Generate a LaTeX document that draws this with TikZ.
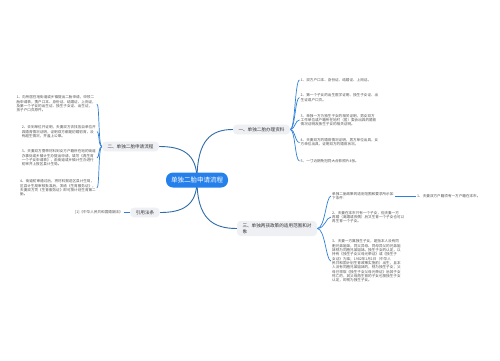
\documentclass[tikz,border=0pt]{standalone}
\usepackage{fontspec}
\newfontfamily\cjk{Noto Sans CJK SC}
\usetikzlibrary{calc,backgrounds}
\definecolor{rootblue}{HTML}{2680EB}
\definecolor{linkblue}{HTML}{2F6CA8}
\definecolor{brblue}{HTML}{2F80D8}
\definecolor{topicfill}{HTML}{EEF0F4}
\definecolor{txt}{HTML}{333333}
\definecolor{subtxt}{HTML}{555555}
\tikzset{
  rootnode/.style={fill=rootblue, rounded corners=7pt, text=white,
    font=\cjk\fontsize{6.5}{7}\selectfont, minimum width=62pt, minimum height=15pt, inner sep=0pt},
  topic/.style={fill=topicfill, rounded corners=4pt, text=txt,
    font=\cjk\fontsize{4.6}{5.6}\selectfont, inner xsep=5.5pt, inner ysep=2.8pt, align=left},
  leaf/.style={text=subtxt, font=\cjk\fontsize{3.6}{4.3}\selectfont, inner sep=1pt, align=left},
  mainlink/.style={draw=linkblue, line width=0.9pt},
  brlink/.style={draw=brblue, line width=0.7pt},
}
\begin{document}
\begin{tikzpicture}[x=1pt,y=-1pt]
\useasboundingbox (0,0) rectangle (500,360);
% nodes
\node[rootnode] (root) at (197,180) {单独二胎申请流程};
\node[topic] (b1) at (261.5,129.5) {一、单独二胎办理资料};
\node[topic] (b2) at (130.5,146.5) {二、单独二胎申请流程};
\node[topic] (b3) at (145,212.5) {引用法条};
\node[topic] (b4) at (277,228.5) {三、单独两孩政策的适用范围和对\\象};
% right upper leaves
\node[leaf, anchor=west] (r1) at (299.5,80) {1、双方户口本、身份证、结婚证、上岗证。};
\node[leaf, anchor=west] (r2) at (299.5,97.5) {2、第一个子女的出生医学证明、独生子女证、出\\生证或户口页。};
\node[leaf, anchor=west] (r3) at (299.5,120) {3、单独一方为独生子女的相关证明，男女双方\\工作单位或户籍所在地村（居）委会出具的婚育\\情况证明及独生子女的相关证明。};
\node[leaf, anchor=west] (r4) at (299.5,142.5) {4、夫妻双方的婚育情况证明，男方单位出具，女\\方单位出具，证明双方的婚育状况。};
\node[leaf, anchor=west] (r5) at (299.5,161) {5、一寸近期免冠同大合影照片4张。};
% left leaves
\node[leaf, anchor=east] (l1) at (97,104) {1、向所居住地街道或乡镇提出二胎申请，申领二\\胎申请表，携户口本、身份证、结婚证、上岗证，\\及第一个子女的出生证、独生子女证、出生证，\\孩子户口页原件。};
\node[leaf, anchor=east] (l2) at (97,131.7) {2、去到单位开证明，夫妻双方去找各自单位开\\具婚育情况证明，证明双方都是初婚初育，没\\有超生情况，并盖上公章。};
\node[leaf, anchor=east] (l3) at (97,158) {3、夫妻双方携带材料到女方户籍所在地的街道\\办事处或乡镇计生办提出申请，填写《再生育\\一个子女申请表》，由街道或乡镇计生办进行\\初审并上报区县计生局。};
\node[leaf, anchor=east] (l4) at (97,188) {4、街道初审通过后，将材料报送区县计生局，\\区县计生局审核批准后，发给《生育服务证》，\\夫妻双方凭《生育服务证》即可按计划生育第二\\胎。};
% cited law
\node[leaf, anchor=east] (b3c) at (124,212.5) {[1]《中华人民共和国婚姻法》};
% right lower leaves
\node[leaf, anchor=west] (s0) at (331,196) {单独二胎政策的适用范围和要求所示如\\下条件：};
\node[leaf, anchor=west] (s0a) at (416,196) {1、夫妻双方户籍须有一方户籍在本市。};
\node[leaf, anchor=west] (s2) at (331,217) {2、夫妻在本市只有一个子女，但夫妻一方\\再婚（离婚或丧偶）后又生育一个子女也可以\\再生育一个子女。};
\node[leaf, anchor=west] (s3) at (331,261) {3、夫妻一方属独生子女，是指本人没有同\\胞兄弟姐妹，同父异母、同母异父的兄弟姐\\妹视为同胞兄弟姐妹。独生子女的认定，以\\持有《独生子女父母光荣证》或《独生子\\女证》为准；1982年1月1日（中华人\\民共和国计划生育政策实施前）出生，且本\\人没有同胞兄弟姐妹的，视为独生子女；父\\母已领取《独生子女父母光荣证》后其子女\\死亡的，其父母再生育的子女也按独生子女\\认定，即视为独生子女。};
% connectors
\begin{pgfonlayer}{background}
\fill[white] (0,0) rectangle (500,360);
\draw[mainlink] (root.center) .. controls ($(root.center)!0.8!(root.center |- b1.west)$) and ($(b1.west)!0.6!(root.center |- b1.west)$) .. (b1.west);
\draw[mainlink] (root.center) .. controls ($(root.center)!0.8!(root.center |- b2.east)$) and ($(b2.east)!0.6!(root.center |- b2.east)$) .. (b2.east);
\draw[mainlink] (root.center) .. controls ($(root.center)!0.8!(root.center |- b3.east)$) and ($(b3.east)!0.6!(root.center |- b3.east)$) .. (b3.east);
\draw[mainlink] (root.center) .. controls ($(root.center)!0.8!(root.center |- b4.west)$) and ($(b4.west)!0.6!(root.center |- b4.west)$) .. (b4.west);
\foreach \c in {r1,r2,r3,r4,r5}
  \draw[brlink] (b1.east) .. controls ($(b1.east)+(5,0)$) and ($(\c.west)+(-4.5,0)$) .. (\c.west);
\foreach \c in {l1,l2,l3,l4}
  \draw[brlink] (b2.west) .. controls ($(b2.west)+(-3.5,0)$) and ($(\c.east)+(2.5,0)$) .. (\c.east);
\foreach \c in {s0,s2,s3}
  \draw[brlink] (b4.east) .. controls ($(b4.east)+(8,0)$) and ($(\c.west)+(-5,0)$) .. (\c.west);
\draw[brlink] (s0.east |- s0a.west) -- (s0a.west);
\draw[brlink] (b3.west) -- (b3c.east);
\end{pgfonlayer}
\end{tikzpicture}
\end{document}
